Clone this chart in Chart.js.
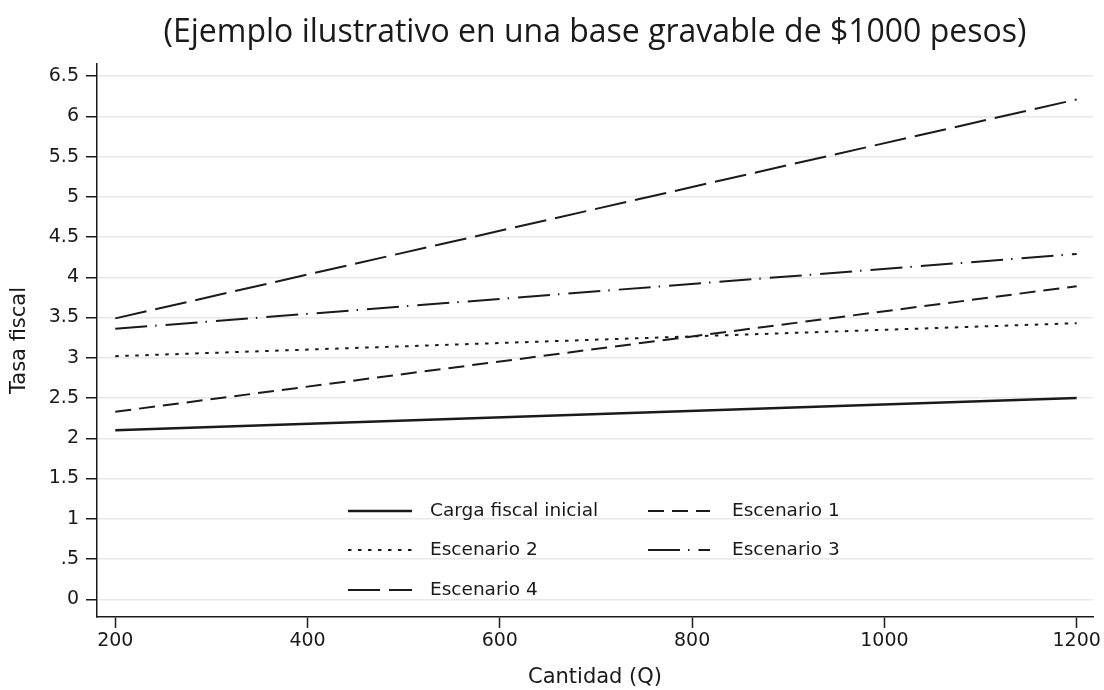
<!DOCTYPE html>
<html>
<head>
<meta charset="utf-8">
<script src="https://cdn.jsdelivr.net/npm/chart.js@4.4.1/dist/chart.umd.min.js"></script>
<style>
  html, body { margin: 0; padding: 0; background: #fff; }
  #wrap { width: 1104px; height: 690px; }
</style>
</head>
<body>
<div id="wrap"><canvas id="tasaChart" width="1104" height="690"></canvas></div>
<script>
// data
var xValues = [200, 1200];
var cargaInicial = [2.1, 2.5];
var escenario1 = [2.33, 3.89];
var escenario2 = [3.02, 3.43];
var escenario3 = [3.36, 4.29];
var escenario4 = [3.49, 6.21];
var seriesNames = ["Carga fiscal inicial", "Escenario 1", "Escenario 2", "Escenario 3", "Escenario 4"];
var xTicks = [200, 400, 600, 800, 1000, 1200];
var yTicks = [0, 0.5, 1, 1.5, 2, 2.5, 3, 3.5, 4, 4.5, 5, 5.5, 6, 6.5];
var yTickLabels = ["0", ".5", "1", "1.5", "2", "2.5", "3", "3.5", "4", "4.5", "5", "5.5", "6", "6.5"];
var chartTitle = "(Ejemplo ilustrativo en una base gravable de $1000 pesos)";

var FONT = "'DejaVu Sans', sans-serif";
var TITLE_FONT = "'Open Sans', sans-serif";
var INK = "#1a1a1a";

function toPoints(ys) {
    return xValues.map(function (x, i) { return { x: x, y: ys[i] }; });
}

var dashes = [[], [16, 8], [3.5, 6.5], [32, 8, 1.5, 9], [32, 9]];
var widths = [2.4, 2, 2, 2, 2];
var allSeries = [cargaInicial, escenario1, escenario2, escenario3, escenario4];

var datasets = allSeries.map(function (s, i) {
    return {
        label: seriesNames[i],
        data: toPoints(s),
        borderColor: INK,
        borderWidth: widths[i],
        borderDash: dashes[i],
        pointRadius: 0,
        fill: false,
        tension: 0
    };
});

// title centred over the plot area (chart.js centres it on the whole canvas)
var plotTitle = {
    id: 'plotTitle',
    afterDraw: function (chart) {
        var ctx = chart.ctx;
        var area = chart.chartArea;
        ctx.save();
        ctx.font = "32px " + TITLE_FONT;
        ctx.fillStyle = INK;
        ctx.textAlign = 'center';
        ctx.textBaseline = 'middle';
        ctx.fillText(chartTitle, (area.left + area.right) / 2, 33);
        ctx.restore();
    }
};

// legend inside the plot, two columns like the original
var insideLegend = {
    id: 'insideLegend',
    afterDatasetsDraw: function (chart) {
        var ctx = chart.ctx;
        var cols = [{ x0: 348, x1: 412, tx: 430 }, { x0: 648, x1: 710, tx: 732 }];
        var rows = [511, 550, 590];
        ctx.save();
        ctx.font = "18.5px " + FONT;
        ctx.textBaseline = 'middle';
        ctx.fillStyle = INK;
        chart.data.datasets.forEach(function (ds, i) {
            var c = cols[i % 2];
            var y = rows[Math.floor(i / 2)];
            ctx.strokeStyle = ds.borderColor;
            ctx.lineWidth = ds.borderWidth;
            ctx.setLineDash(ds.borderDash);
            ctx.beginPath();
            ctx.moveTo(c.x0, y);
            ctx.lineTo(c.x1, y);
            ctx.stroke();
            ctx.setLineDash([]);
            ctx.fillText(ds.label, c.tx, y);
        });
        ctx.restore();
    }
};

new Chart("tasaChart", {
    type: "line",
    data: { datasets: datasets },
    plugins: [insideLegend, plotTitle],
    options: {
        responsive: false,
        animation: false,
        layout: { padding: { top: 64, left: 0, right: 11, bottom: 0 } },
        plugins: {
            legend: { display: false },
            tooltip: { enabled: false },
            title: { display: false }
        },
        scales: {
            x: {
                type: 'linear',
                min: 181,
                max: 1217,
                afterBuildTicks: function (scale) {
                    scale.ticks = xTicks.map(function (v) { return { value: v }; });
                },
                afterFit: function (scale) { scale.height = 73; },
                grid: { drawOnChartArea: false, drawTicks: true, tickLength: 11, tickColor: INK, tickWidth: 1.5 },
                border: { display: true, color: INK, width: 1.5 },
                ticks: {
                    color: INK,
                    font: { family: FONT, size: 19 },
                    padding: 2,
                    maxRotation: 0,
                    callback: function (value) { return String(value); }
                },
                title: {
                    display: true,
                    text: "Cantidad (Q)",
                    color: INK,
                    font: { family: FONT, size: 21 },
                    padding: { top: 0, bottom: 0 }
                }
            },
            y: {
                min: -0.22,
                max: 6.65,
                afterBuildTicks: function (scale) {
                    scale.ticks = yTicks.map(function (v) { return { value: v }; });
                },
                afterFit: function (scale) { scale.width = 97; },
                grid: { color: "#e8e8e8", lineWidth: 1.5, drawTicks: true, tickLength: 11, tickColor: INK, tickWidth: 1.5 },
                border: { display: true, color: INK, width: 1.5 },
                ticks: {
                    color: INK,
                    font: { family: FONT, size: 19 },
                    padding: 7,
                    callback: function (value) {
                        var i = yTicks.indexOf(value);
                        return i >= 0 ? yTickLabels[i] : null;
                    }
                },
                title: {
                    display: true,
                    text: "Tasa fiscal",
                    color: INK,
                    font: { family: FONT, size: 21 },
                    padding: { top: 7, bottom: 0 }
                }
            }
        }
    }
});
</script>
</body>
</html>
